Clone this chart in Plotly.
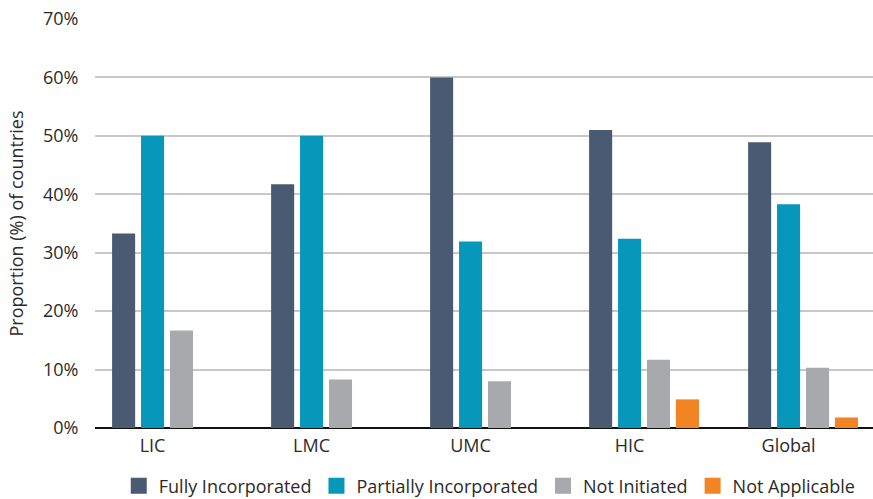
import plotly.graph_objects as go

# Income groups and share of countries (%) in each incorporation status
categories = ["LIC", "LMC", "UMC", "HIC", "Global"]
fully_incorporated = [33.3, 41.7, 60.0, 51.0, 48.9]
partially_incorporated = [50.0, 50.0, 31.9, 32.4, 38.3]
not_initiated = [16.7, 8.3, 8.0, 11.7, 10.3]
not_applicable = [None, None, None, 4.9, 1.8]

series_names = ["Fully Incorporated", "Partially Incorporated", "Not Initiated", "Not Applicable"]
series_values = [fully_incorporated, partially_incorporated, not_initiated, not_applicable]
colors = ["#4a5a72", "#0797bb", "#a8a9ac", "#f28424"]

y_ticks = [0, 10, 20, 30, 40, 50, 60, 70]
y_tick_labels = [f"{v}%" for v in y_ticks]

FONT = "Open Sans"
FS = 18
TXT = "#2b2b2b"
BAR_W = 0.145     # bar width in category units
SLOT = 0.182      # distance between neighbouring bars in a group
FIRST = -SLOT     # centre of the first bar relative to the category tick

fig = go.Figure()
for k, (name, vals, col) in enumerate(zip(series_names, series_values, colors)):
    centre = FIRST + k * SLOT
    fig.add_trace(go.Bar(
        x=categories, y=vals, name=name,
        marker=dict(color=col, line=dict(width=0)),
        width=BAR_W, offset=centre - BAR_W / 2,
        showlegend=False,
    ))
    # legend swatch
    fig.add_trace(go.Scatter(
        x=[None], y=[None], mode="markers", name=name,
        marker=dict(symbol="square", size=16, color=col),
        showlegend=True,
    ))

fig.update_layout(
    width=873, height=499,
    margin=dict(l=95, r=0, t=19, b=71),
    paper_bgcolor="white", plot_bgcolor="white",
    font=dict(family=FONT, size=FS, color=TXT),
    barmode="overlay",
    showlegend=True,
    legend=dict(
        orientation="h", xref="container", yref="container",
        x=0.561, xanchor="center", y=0.026, yanchor="middle",
        font=dict(family=FONT, size=FS, color=TXT),
        itemsizing="trace",
    ),
    xaxis=dict(
        type="category", range=[-0.362, 4.531],
        showgrid=False, showline=False, zeroline=False,
        ticks="outside", ticklen=1, tickcolor="rgba(0,0,0,0)",
        tickfont=dict(family=FONT, size=FS, color=TXT),
        fixedrange=True,
    ),
    yaxis=dict(
        range=[0, 70], tickmode="array", tickvals=y_ticks, ticktext=y_tick_labels,
        showgrid=True, gridcolor="#c8c8c8", gridwidth=1.5,
        zeroline=True, zerolinecolor="#111111", zerolinewidth=1.5,
        showline=False,
        ticks="outside", ticklen=12, tickcolor="rgba(0,0,0,0)",
        tickfont=dict(family=FONT, size=FS, color=TXT),
        title=dict(text="Proportion (%) of countries", standoff=14,
                   font=dict(family=FONT, size=FS, color=TXT)),
        fixedrange=True,
    ),
)

fig.write_html("out.html")
